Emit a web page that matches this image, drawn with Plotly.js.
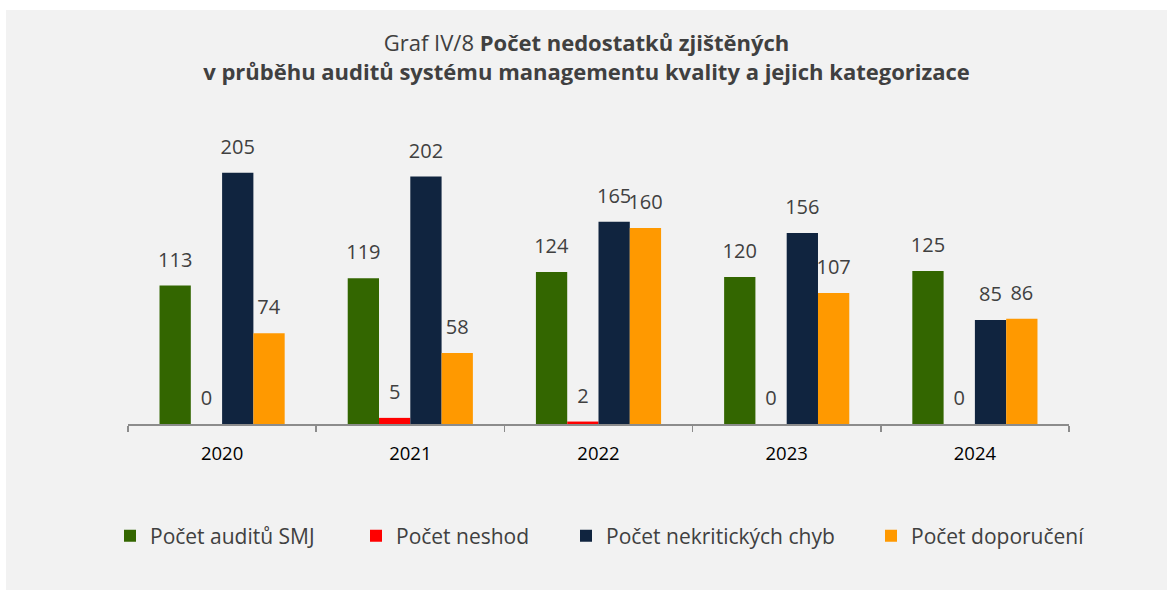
<!DOCTYPE html>
<html>
<head>
<meta charset="utf-8">
<script src="https://cdn.plot.ly/plotly-3.0.1.min.js"></script>
<style>
html,body{margin:0;padding:0;background:#ffffff;}
#chart{position:absolute;left:6px;top:10px;width:1161px;height:580px;}
</style>
</head>
<body>
<div id="chart"></div>
<script>
const years = ['2020', '2021', '2022', '2023', '2024'];
const seriesNames = ['Počet auditů SMJ', 'Počet neshod', 'Počet nekritických chyb', 'Počet doporučení'];
const auditsSMJ = [113, 119, 124, 120, 125];
const neshody = [0, 5, 2, 0, 0];
const nekritickeChyby = [205, 202, 165, 156, 85];
const doporuceni = [74, 58, 160, 107, 86];
const colors = ['#336600', '#ff0000', '#10243f', '#ff9900'];

const legendIds = ['legend', 'legend2', 'legend3', 'legend4'];
const legendX = [104, 350, 560, 865];  // left edge of each legend entry (px in chart)

const values = [auditsSMJ, neshody, nekritickeChyby, doporuceni];
const traces = values.map((v, i) => ({
  type: 'bar',
  name: seriesNames[i],
  legend: legendIds[i],
  x: years,
  y: v,
  marker: {color: colors[i], line: {width: 0}},
  text: v.map(String),
  texttemplate: '<span style="font-size:20px">%{text}</span><br>\u00a0',
  textposition: 'outside',
  constraintext: 'none',
  cliponaxis: false,
  textfont: {family: 'Open Sans', size: 10, color: '#404040'},
  hoverinfo: 'x+y'
}));

const W = 1161, H = 580;
const layout = {
  width: W,
  height: H,
  paper_bgcolor: '#f2f2f2',
  plot_bgcolor: '#f2f2f2',
  margin: {l: 122, r: 98, t: 120, b: 166, autoexpand: false},
  barmode: 'group',
  bargap: 0.335,
  bargroupgap: 0,
  title: {
    text: 'Graf IV/8 <b>Počet nedostatků zjištěných</b><br><b>v průběhu auditů systému managementu kvality a jejich kategorizace</b>',
    font: {family: 'Open Sans', size: 22, color: '#404040'},
    x: 0.5, xanchor: 'center',
    y: 0.929, yanchor: 'middle', yref: 'container'
  },
  xaxis: {
    type: 'category',
    showline: true,
    linecolor: '#8c8c8c',
    linewidth: 1.5,
    ticks: 'outside',
    tickson: 'boundaries',
    ticklen: 6,
    tickcolor: '#8c8c8c',
    tickwidth: 1.5,
    ticklabelstandoff: 12,
    showgrid: false,
    tickfont: {family: 'Open Sans', size: 18.5, color: '#000000'}
  },
  yaxis: {
    range: [0, 240],
    visible: false,
    showgrid: false,
    zeroline: false
  },
  showlegend: true
};
legendIds.forEach((id, i) => {
  layout[id] = {
    orientation: 'h',
    xref: 'container',
    yref: 'container',
    x: legendX[i] / W, xanchor: 'left',
    y: 0.093, yanchor: 'middle',
    font: {family: 'Open Sans', size: 21, color: '#404040'},
    bgcolor: 'rgba(0,0,0,0)'
  };
});

Plotly.newPlot('chart', traces, layout, {displayModeBar: false, staticPlot: true});
</script>
</body>
</html>
